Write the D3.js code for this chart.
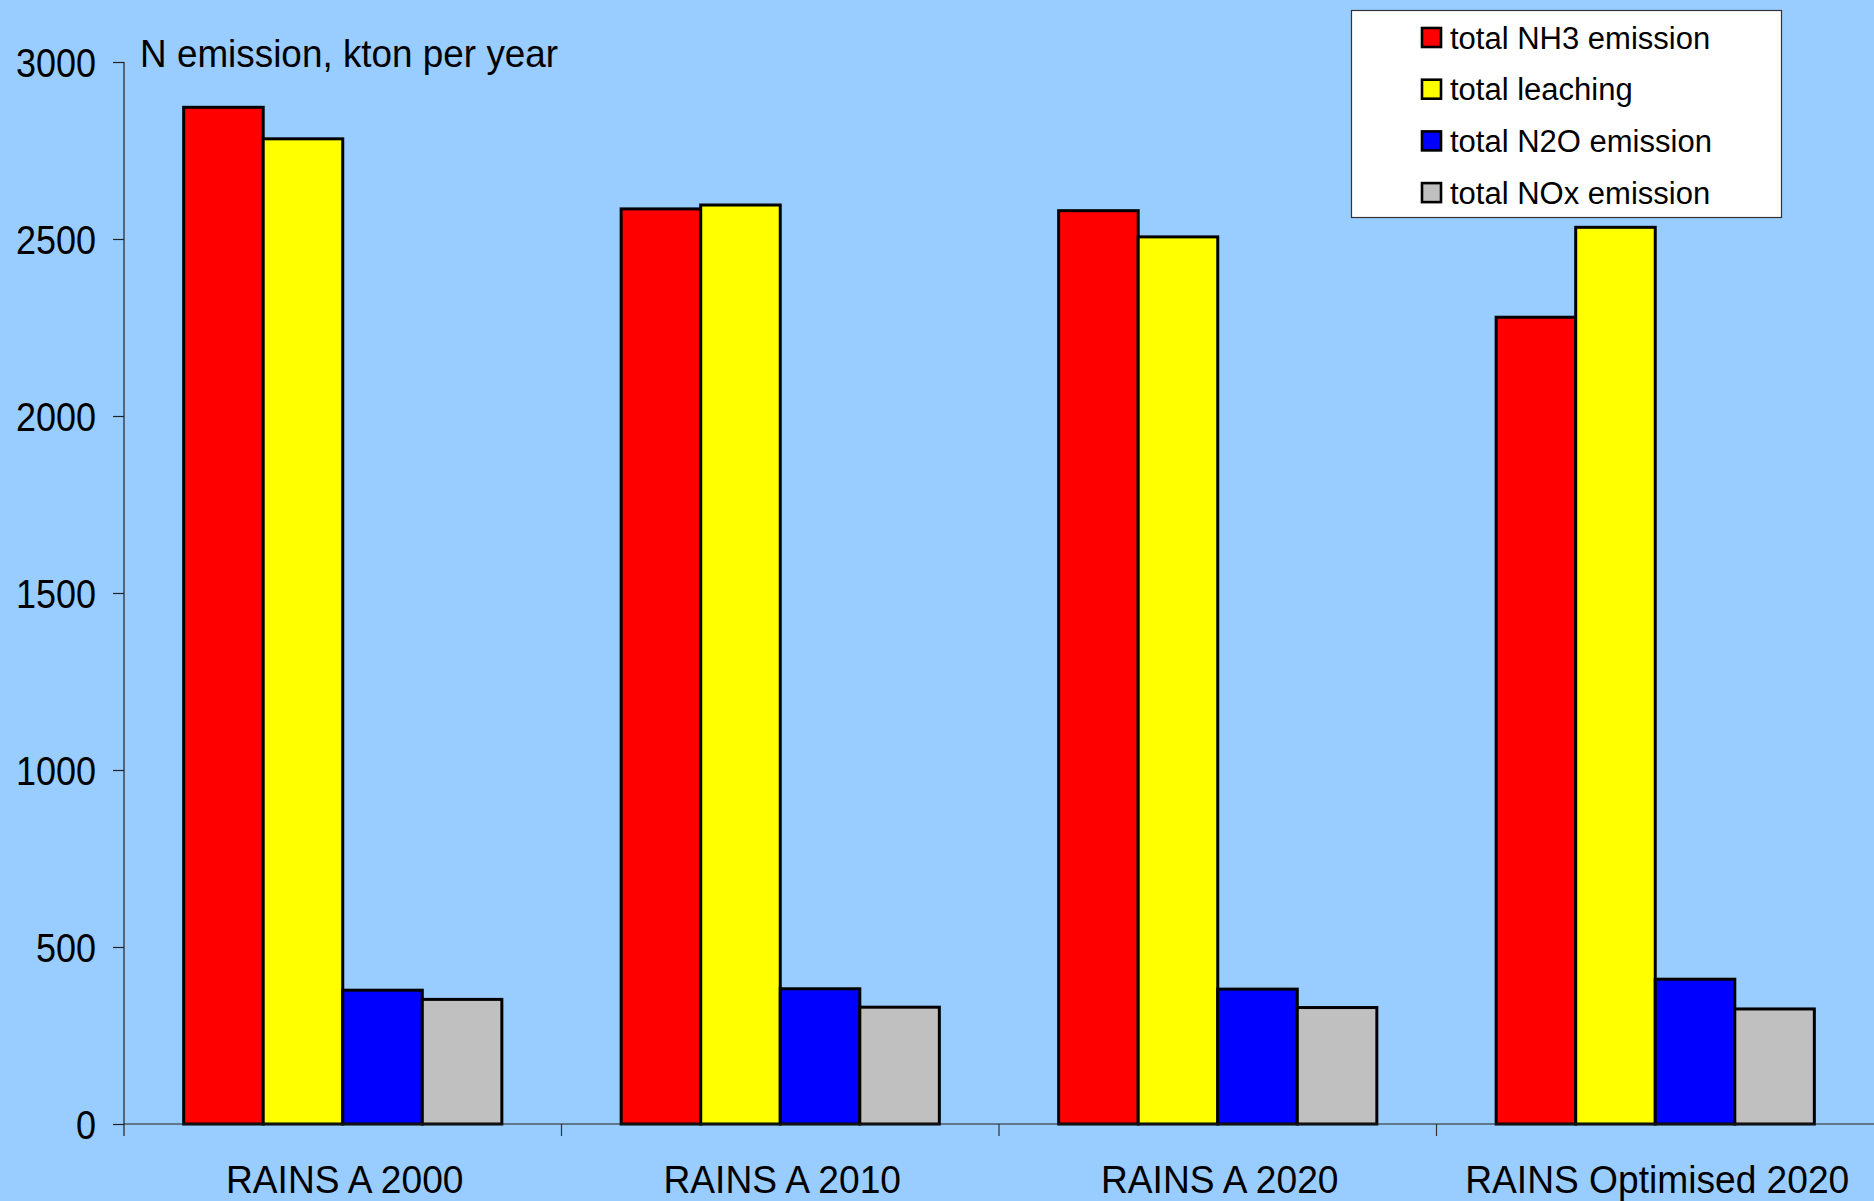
<!DOCTYPE html>
<html>
<head>
<meta charset="utf-8">
<script src="https://cdn.jsdelivr.net/npm/d3@7"></script>
<style>
  html, body { margin: 0; padding: 0; background: #99CCFF; }
  svg { display: block; }
  text { font-family: "Liberation Sans", Arial, sans-serif; fill: #000; }
</style>
</head>
<body>
<svg id="chart" width="1874" height="1201"></svg>
<script>
// Nitrogen emissions by scenario, kton N per year
const categories = ["RAINS A 2000", "RAINS A 2010", "RAINS A 2020", "RAINS Optimised 2020"];
const seriesNames = ["total NH3 emission", "total leaching", "total N2O emission", "total NOx emission"];
const seriesColors = ["#FF0000", "#FFFF00", "#0000FF", "#C0C0C0"];
const nh3 = [2872, 2585, 2580, 2279];
const leaching = [2783, 2596, 2506, 2533];
const n2o = [378, 382, 381, 409];
const nox = [352, 330, 329, 325];
const yTicks = [0, 500, 1000, 1500, 2000, 2500, 3000];
const yTitle = "N emission, kton per year";

const seriesValues = [nh3, leaching, n2o, nox];
const rows = categories.map((c, i) => ({
  category: c,
  values: seriesNames.map((s, j) => ({ series: s, value: seriesValues[j][i], color: seriesColors[j] }))
}));

const svg = d3.select("#chart");
const plotLeft = 124, plotRight = 1874, plotTop = 62, plotBottom = 1124;

const x0 = d3.scaleBand().domain(categories).range([plotLeft, plotRight]).paddingInner(0).paddingOuter(0);
const x1 = d3.scaleBand().domain(seriesNames).range([0, x0.bandwidth()]).paddingInner(0).paddingOuter(0.75);
const y = d3.scaleLinear().domain([0, 3000]).range([plotBottom, plotTop]);

// Bars
const groups = svg.append("g").selectAll("g")
  .data(rows).join("g")
  .attr("transform", d => `translate(${x0(d.category)},0)`);

groups.selectAll("rect")
  .data(d => d.values).join("rect")
  .attr("x", d => x1(d.series))
  .attr("y", d => y(d.value))
  .attr("width", x1.bandwidth())
  .attr("height", d => y(0) - y(d.value))
  .attr("fill", d => d.color)
  .attr("stroke", "#000")
  .attr("stroke-width", 3);

// Y axis (labels slightly condensed)
const tickSx = 0.9;
const yAxis = svg.append("g")
  .attr("transform", `translate(${plotLeft},0)`)
  .call(d3.axisLeft(y).tickValues(yTicks).tickFormat(d3.format("d")).tickSize(11).tickPadding(17));
yAxis.select(".domain").attr("d", `M0,${plotTop}V${plotBottom + 12}`).attr("stroke", "#222").attr("stroke-width", 1.2);
yAxis.selectAll(".tick line").attr("stroke", "#222").attr("stroke-width", 1.2);
yAxis.selectAll(".tick text")
  .style("font-family", "'Liberation Sans', Arial, sans-serif")
  .style("font-size", "40px")
  .attr("fill", "#000")
  .attr("x", -28 / tickSx)
  .attr("dy", "0.35em")
  .attr("transform", `scale(${tickSx},1)`);

// X axis
const xAxis = svg.append("g")
  .attr("transform", `translate(0,${plotBottom})`);
xAxis.append("line")
  .attr("x1", plotLeft).attr("x2", plotRight)
  .attr("y1", 0).attr("y2", 0)
  .attr("stroke", "#222").attr("stroke-width", 1.2);
xAxis.selectAll("line.sep")
  .data(categories.slice(1)).join("line")
  .attr("class", "sep")
  .attr("x1", d => x0(d)).attr("x2", d => x0(d))
  .attr("y1", 0).attr("y2", 12)
  .attr("stroke", "#333").attr("stroke-width", 1.2);
xAxis.selectAll("text.cat")
  .data(categories).join("text")
  .attr("class", "cat")
  .attr("transform", d => `translate(${x0(d) + x0.bandwidth() / 2 + 2},69) scale(0.96,1)`)
  .attr("text-anchor", "middle")
  .style("font-size", "38.7px")
  .text(d => d);

// Axis title
svg.append("text")
  .attr("transform", "translate(140,66.5) scale(0.934,1)")
  .style("font-size", "39.5px")
  .text(yTitle);

// Legend
const lg = svg.append("g");
lg.append("rect")
  .attr("x", 1351.5).attr("y", 10.5)
  .attr("width", 430).attr("height", 207)
  .attr("fill", "#fff").attr("stroke", "#333").attr("stroke-width", 1.2);
const items = lg.selectAll("g.item")
  .data(seriesNames.map((s, i) => ({ s, c: seriesColors[i] }))).join("g")
  .attr("class", "item")
  .attr("transform", (d, i) => `translate(0,${37.5 + i * 51.7})`);
items.append("rect")
  .attr("x", 1422).attr("y", -9.5)
  .attr("width", 19).attr("height", 19)
  .attr("fill", d => d.c).attr("stroke", "#000").attr("stroke-width", 2.6);
items.append("text")
  .attr("transform", "translate(1450,11)")
  .style("font-size", "31px")
  .text(d => d.s);
</script>
</body>
</html>
